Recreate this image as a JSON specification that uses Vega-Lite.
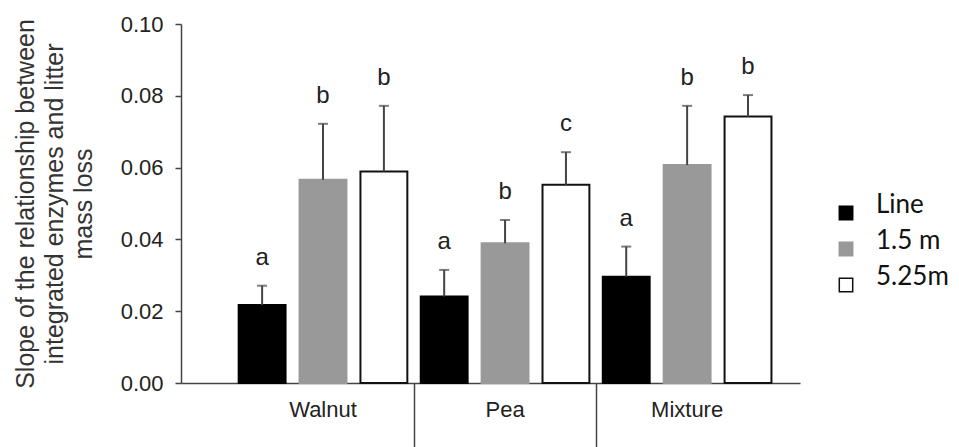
{
  "$schema": "https://vega.github.io/schema/vega-lite/v6.json",
  "autosize": {"type": "none"},
  "padding": {"left": 181, "top": 24, "right": 159, "bottom": 64},
  "width": 619,
  "height": 359,
  "config": {
    "font": "Liberation Sans",
    "view": {"stroke": null},
    "axis": {"grid": false, "domainColor": "#444", "tickColor": "#444", "labelColor": "#222", "titleColor": "#333", "domainWidth": 1.5, "tickWidth": 1.5}
  },
  "data": {
    "values": [
      {"group": "Walnut", "series": "Line", "value": 0.0217, "err": 0.0271, "letter": "a"},
      {"group": "Walnut", "series": "1.5 m", "value": 0.0566, "err": 0.0722, "letter": "b"},
      {"group": "Walnut", "series": "5.25m", "value": 0.0589, "err": 0.0772, "letter": "b"},
      {"group": "Pea", "series": "Line", "value": 0.0241, "err": 0.0315, "letter": "a"},
      {"group": "Pea", "series": "1.5 m", "value": 0.0389, "err": 0.0454, "letter": "b"},
      {"group": "Pea", "series": "5.25m", "value": 0.0552, "err": 0.0643, "letter": "c"},
      {"group": "Mixture", "series": "Line", "value": 0.0296, "err": 0.0380, "letter": "a"},
      {"group": "Mixture", "series": "1.5 m", "value": 0.0607, "err": 0.0772, "letter": "b"},
      {"group": "Mixture", "series": "5.25m", "value": 0.0742, "err": 0.0802, "letter": "b"}
    ]
  },
  "encoding": {
    "x": {
      "field": "group", "type": "nominal", "sort": ["Walnut", "Pea", "Mixture"],
      "scale": {"paddingInner": 0, "paddingOuter": 0.2, "align": 0.7},
      "axis": {
        "title": null, "labelAngle": 0, "labelFontSize": 22, "labelBaseline": "top",
        "bandPosition": 0, "tickSize": 64, "labelPadding": -48,
        "tickOpacity": {"condition": {"test": "datum.value === 'Walnut'", "value": 0}, "value": 1}
      }
    },
    "xOffset": {
      "field": "series", "type": "nominal", "sort": ["Line", "1.5 m", "5.25m"],
      "scale": {"paddingInner": 0.23, "paddingOuter": 0.11}
    }
  },
  "layer": [
    {
      "mark": {"type": "bar", "strokeWidth": 2},
      "encoding": {
        "y": {
          "field": "value", "type": "quantitative",
          "scale": {"domain": [0, 0.1], "nice": false},
          "axis": {
            "values": [0, 0.02, 0.04, 0.06, 0.08, 0.1], "format": ".2f",
            "labelFontSize": 22, "tickSize": 6, "labelPadding": 12,
            "title": ["Slope of the relationship between", "integrated enzymes and litter", "mass loss"],
            "titleFontSize": 25, "titleFontWeight": "normal", "titleLineHeight": 29, "titlePadding": 24
          }
        },
        "fill": {
          "field": "series", "type": "nominal", "sort": ["Line", "1.5 m", "5.25m"],
          "scale": {"domain": ["Line", "1.5 m", "5.25m"], "range": ["#000000", "#999999", "#ffffff"]},
          "legend": {
            "orient": "none", "legendX": 652, "legendY": 176, "title": null,
            "symbolType": "square", "symbolSize": 180, "symbolStrokeWidth": 1.5,
            "labelFont": "Lato", "labelFontSize": 26, "labelBaseline": "alphabetic",
            "labelOffset": 17, "rowPadding": 5, "labelColor": "#111"
          }
        },
        "stroke": {
          "field": "series", "type": "nominal", "sort": ["Line", "1.5 m", "5.25m"],
          "scale": {"domain": ["Line", "1.5 m", "5.25m"], "range": ["#000000", "#999999", "#111111"]}
        }
      }
    },
    {
      "mark": {"type": "rule", "color": "#444", "strokeWidth": 2},
      "encoding": {
        "y": {"field": "value", "type": "quantitative"},
        "y2": {"field": "err"}
      }
    },
    {
      "mark": {"type": "tick", "color": "#444", "thickness": 2, "size": 10},
      "encoding": {
        "y": {"field": "err", "type": "quantitative"}
      }
    },
    {
      "mark": {"type": "text", "fontSize": 24, "baseline": "alphabetic", "dy": -21, "color": "#222"},
      "encoding": {
        "y": {"field": "err", "type": "quantitative"},
        "text": {"field": "letter"}
      }
    }
  ]
}
